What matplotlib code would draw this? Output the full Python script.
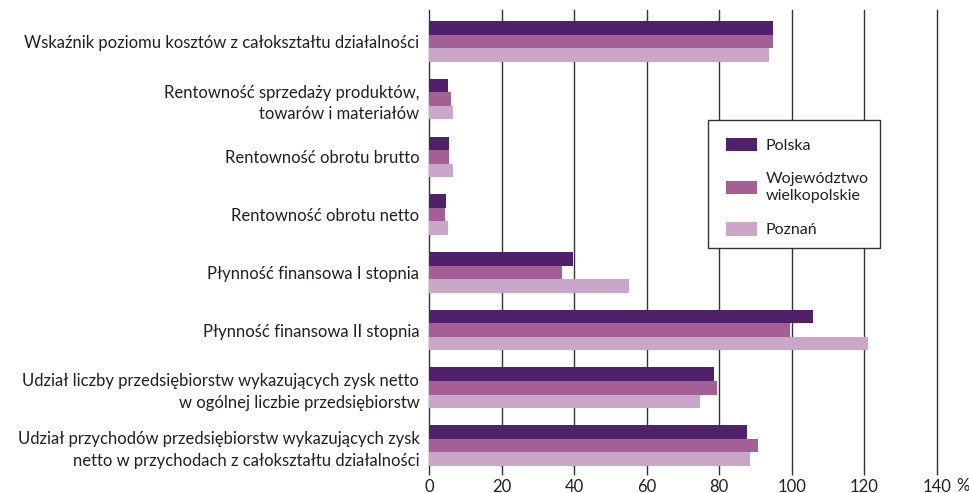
import matplotlib
matplotlib.use("Agg")
import matplotlib.pyplot as plt
from matplotlib.patches import Rectangle
import numpy as np

plt.rcParams['font.family'] = ['Lato', 'DejaVu Sans']

# wskazniki (kolejnosc od gory)
categories = [
    "Wskaźnik poziomu kosztów z całokształtu działalności",
    "Rentowność sprzedaży produktów,\ntowarów i materiałów",
    "Rentowność obrotu brutto",
    "Rentowność obrotu netto",
    "Płynność finansowa I stopnia",
    "Płynność finansowa II stopnia",
    "Udział liczby przedsiębiorstw wykazujących zysk netto\nw ogólnej liczbie przedsiębiorstw",
    "Udział przychodów przedsiębiorstw wykazujących zysk\nnetto w przychodach z całokształtu działalności",
]
polska = [94.8, 5.2, 5.5, 4.7, 39.7, 105.9, 78.6, 87.7]
wielkopolskie = [94.8, 6.1, 5.5, 4.4, 36.7, 99.5, 79.4, 90.7]
poznan = [93.7, 6.6, 6.6, 5.2, 55.1, 120.9, 74.7, 88.5]
series_names = ["Polska", "Województwo\nwielkopolskie", "Poznań"]
xticks = [0, 20, 40, 60, 80, 100, 120, 140]
xticklabels = ["0", "20", "40", "60", "80", "100", "120", "140"]

colors = ['#50206a', '#a46094', '#caa6c9']
text_col = '#231f20'
fs = 12

fig = plt.figure(figsize=(9.7, 4.93), dpi=100)
ax = fig.add_axes([429/970, 1-466/493, (937-429)/970, (466-10)/493])

y = np.arange(len(categories))
h = 0.234
for i, (vals, name) in enumerate(zip([polska, wielkopolskie, poznan], series_names)):
    ax.barh(y + (i-1)*h, vals, height=h, color=colors[i], label=name, zorder=3)

ax.set_xlim(0, 140)
ax.set_ylim(7.355, -0.542)
ax.set_xticks(xticks)
ax.set_xticklabels(xticklabels, fontsize=fs, color=text_col)
for xv in xticks:
    ax.axvline(xv, color='#333333', lw=1, zorder=1, clip_on=False)
ax.tick_params(axis='x', length=6.5, width=1, color='#333333', pad=2.5)
# jednostka przy ostatniej etykiecie osi
fig.text(956/970, 1-486/493, "%", ha='left', va='center', fontsize=fs, color=text_col)

ax.set_yticks(y)
ax.set_yticklabels(categories, fontsize=fs, color=text_col)
ax.tick_params(axis='y', length=0, pad=7)
for t in ax.get_yticklabels():
    t.set_linespacing(1.45)

for s in ax.spines.values():
    s.set_visible(False)

# ramka legendy
box = Rectangle((708/970, 1-248/493), 172/970, 128/493, transform=fig.transFigure,
                facecolor='white', edgecolor='#333333', lw=1, zorder=4, clip_on=False)
ax.add_patch(box)

leg = ax.legend(loc='upper left', bbox_to_anchor=(708/970, 1-120/493),
                bbox_transform=fig.transFigure, frameon=False,
                fontsize=11.5, handlelength=1.95, handleheight=0.95,
                handletextpad=0.55, labelspacing=1.2, borderpad=1.1,
                borderaxespad=0)
for t in leg.get_texts():
    t.set_color(text_col)
    t.set_linespacing(1.25)
leg.set_zorder(5)

fig.savefig("out.png", dpi=100)
